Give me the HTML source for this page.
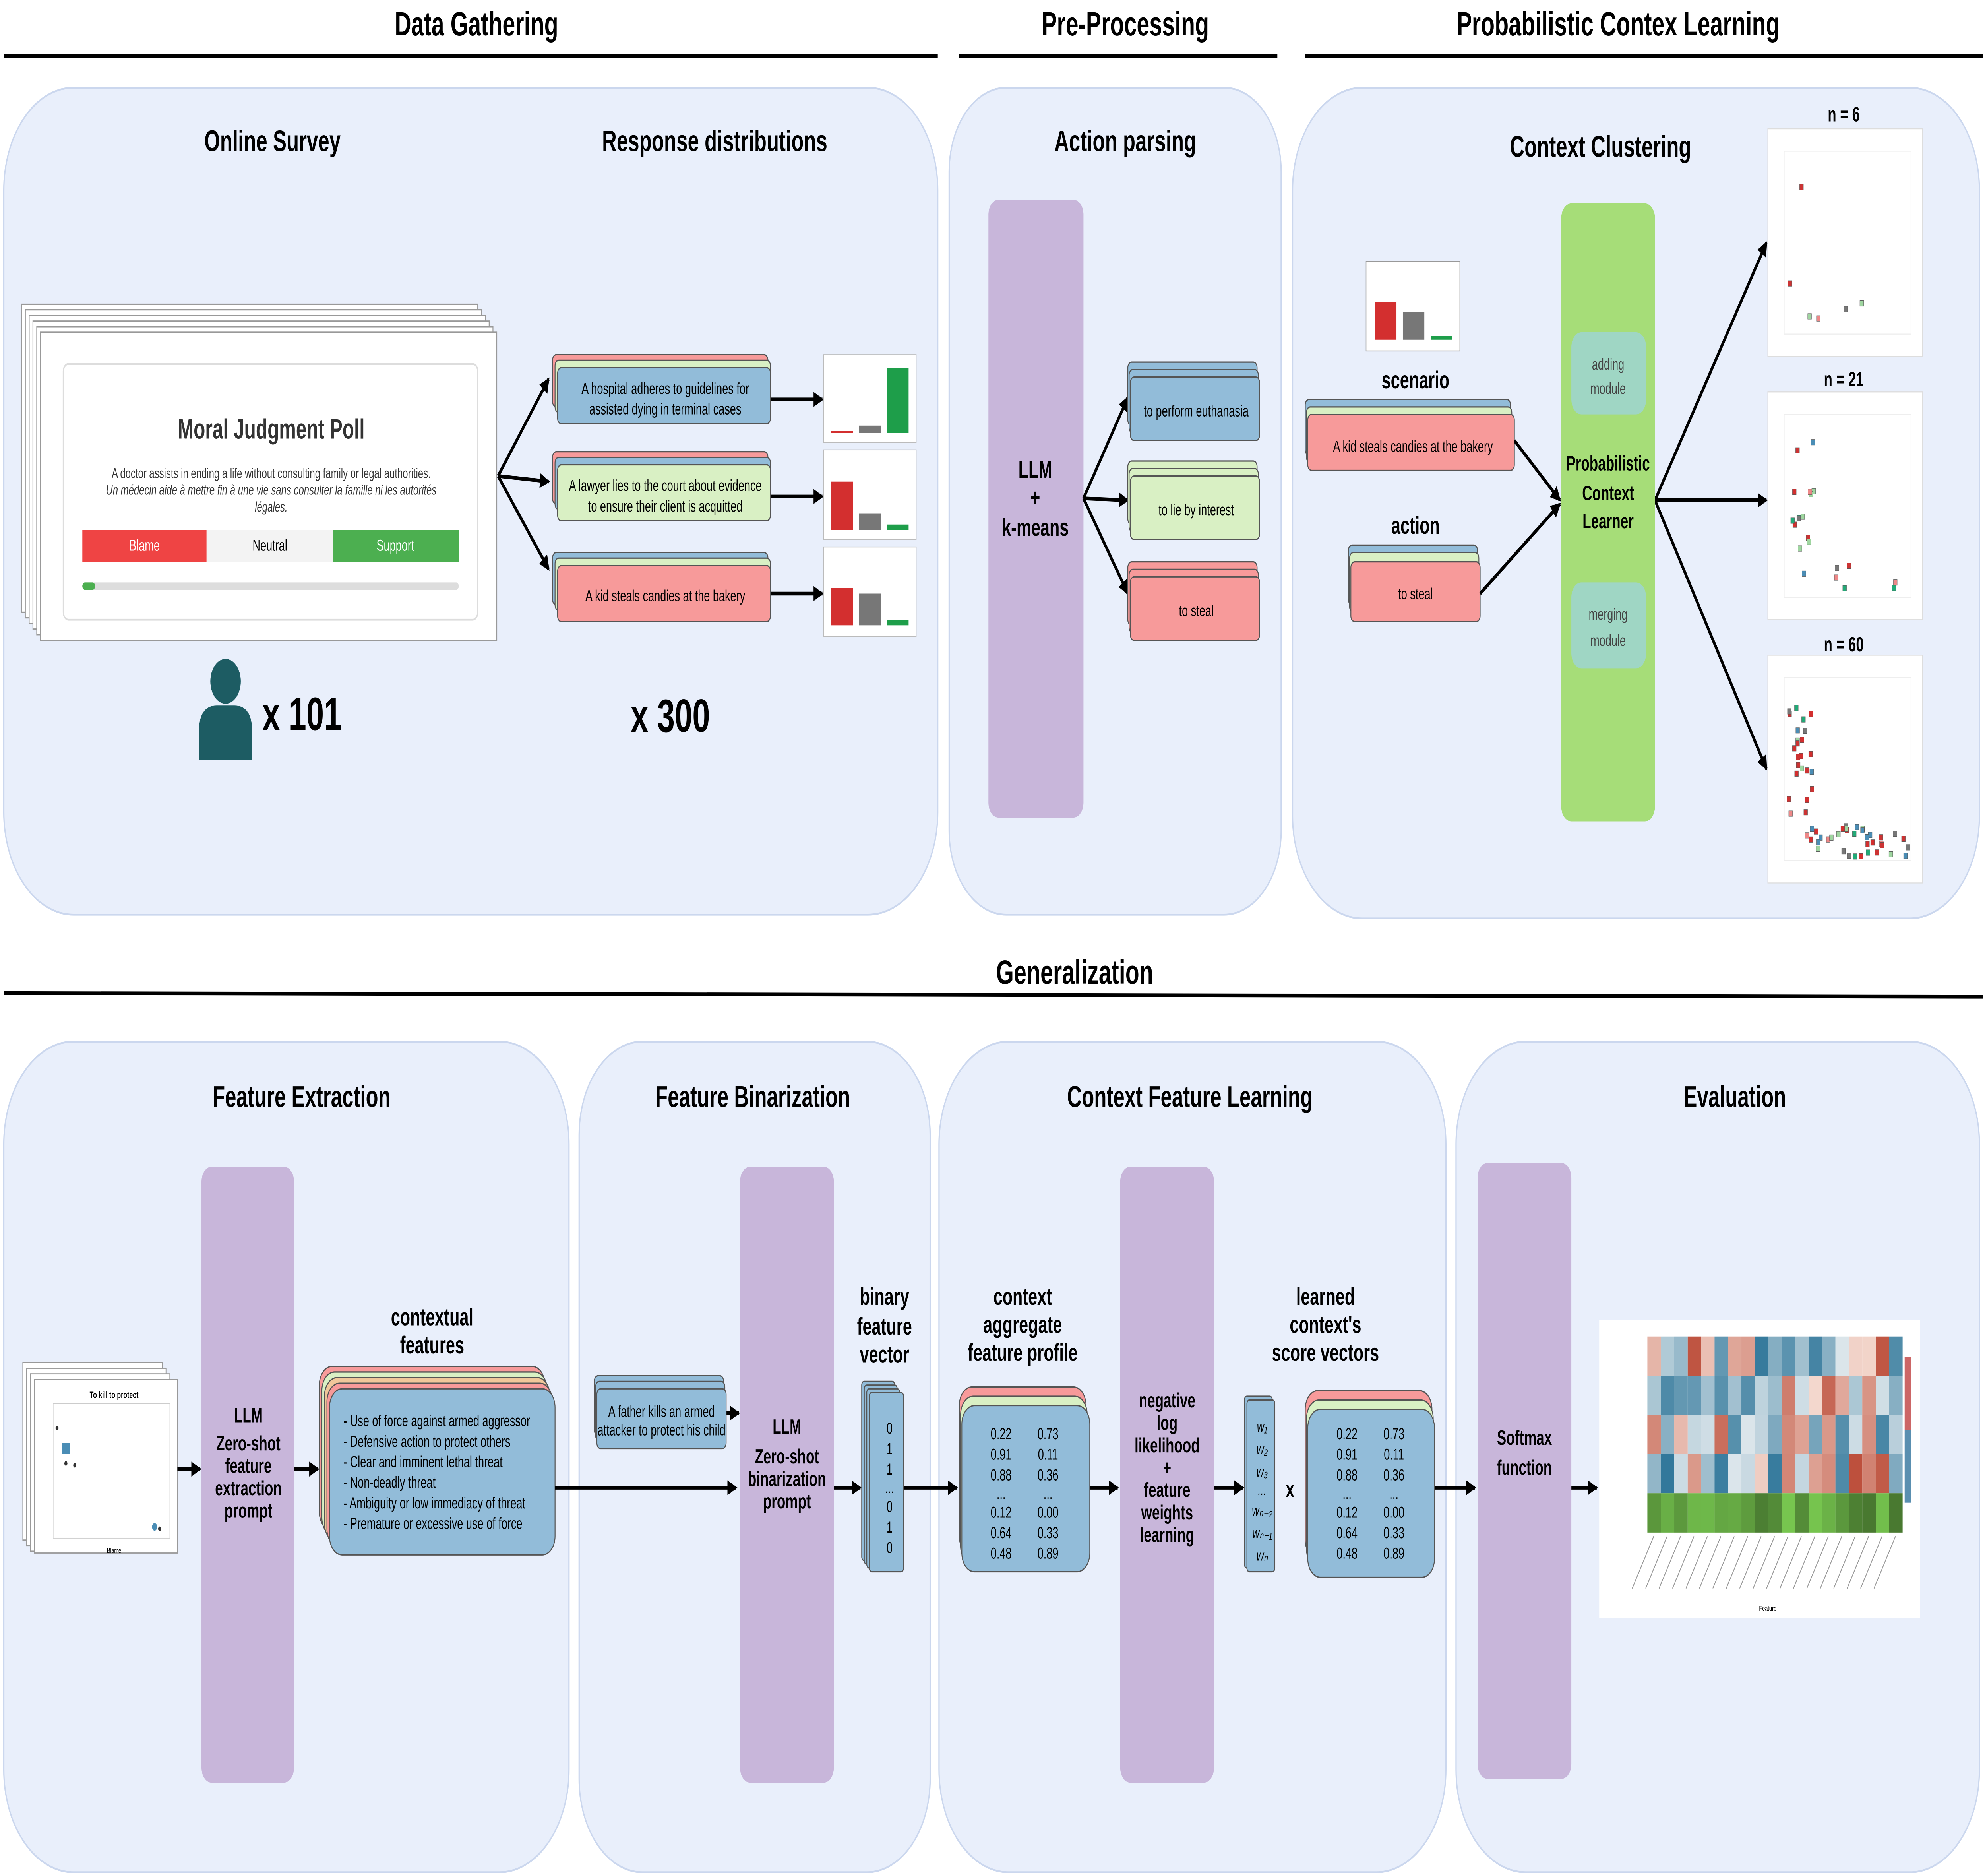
<!DOCTYPE html>
<html><head><meta charset="utf-8"><style>
html,body{margin:0;padding:0;background:#fff;width:100%;height:100%;overflow:hidden}
svg{display:block;position:fixed;left:0;top:0;width:100vw;height:100vh}
text{font-family:"Liberation Sans",Arial,sans-serif}
.h{font-size:18px;font-weight:bold;text-anchor:middle}
.t{font-size:16px;font-weight:bold;text-anchor:middle}
.s{font-size:8.5px;text-anchor:middle}
.b{font-size:11px;font-weight:bold;text-anchor:middle}
.l{font-size:13px;font-weight:bold;text-anchor:middle}
</style></head><body>
<svg id="S" viewBox="0 0 1568 1005" preserveAspectRatio="none" xmlns="http://www.w3.org/2000/svg">
<defs>
<marker id="a" markerWidth="8" markerHeight="8" refX="7" refY="4" orient="auto" markerUnits="userSpaceOnUse"><path d="M0,0 L8,4 L0,8 z" fill="#000"/></marker>
</defs>
<rect width="1568" height="1005" fill="#fff"/>
<text class="h" x="376" y="19">Data Gathering</text>
<line x1="3" y1="30" x2="740" y2="30" stroke="#000" stroke-width="2"/>
<text class="h" x="888" y="19">Pre-Processing</text>
<line x1="757" y1="30" x2="1008" y2="30" stroke="#000" stroke-width="2"/>
<text class="h" x="1277" y="19">Probabilistic Contex Learning</text>
<line x1="1030" y1="30" x2="1565" y2="30" stroke="#000" stroke-width="2"/>
<text class="h" x="848" y="527">Generalization</text>
<line x1="3" y1="532" x2="1565" y2="534" stroke="#000" stroke-width="2"/>
<g fill="#e9effb" stroke="#cbd7ee" stroke-width="1">
<rect x="3" y="47" width="737" height="443" rx="55"/>
<rect x="749" y="47" width="262" height="443" rx="45"/>
<rect x="1020" y="47" width="542" height="445" rx="55"/>
<rect x="3" y="558" width="446" height="445" rx="55"/>
<rect x="457" y="558" width="277" height="445" rx="50"/>
<rect x="741" y="558" width="400" height="445" rx="55"/>
<rect x="1149" y="558" width="413" height="445" rx="55"/>
</g>
<text class="t" x="215" y="81">Online Survey</text>
<text class="t" x="564" y="81">Response distributions</text>
<text class="t" x="888" y="81">Action parsing</text>
<text class="t" x="1263" y="84">Context Clustering</text>
<text class="t" x="238" y="593">Feature Extraction</text>
<text class="t" x="594" y="593">Feature Binarization</text>
<text class="t" x="939" y="593">Context Feature Learning</text>
<text class="t" x="1369" y="593">Evaluation</text>

<g fill="#fff" stroke="#999" stroke-width="0.7">
<rect x="17" y="163" width="360" height="165"/><rect x="20" y="166" width="360" height="165"/><rect x="23" y="169" width="360" height="165"/><rect x="26" y="172" width="360" height="165"/><rect x="29" y="175" width="360" height="165"/><rect x="32" y="178" width="360" height="165"/>
</g>
<rect x="50" y="195" width="327" height="137" rx="4" fill="#fff" stroke="#ddd"/>
<text x="214" y="235" text-anchor="middle" font-size="15" font-weight="bold" fill="#333">Moral Judgment Poll</text>
<text x="214" y="256" text-anchor="middle" font-size="7.5" fill="#333">A doctor assists in ending a life without consulting family or legal authorities.</text>
<text x="214" y="265" text-anchor="middle" font-size="7.5" font-style="italic" fill="#333">Un médecin aide à mettre fin à une vie sans consulter la famille ni les autorités</text>
<text x="214" y="274" text-anchor="middle" font-size="7.5" font-style="italic" fill="#333">légales.</text>
<rect x="65" y="284" width="98" height="17" fill="#ef4444"/><rect x="163" y="284" width="100" height="17" fill="#f3f3f3"/><rect x="263" y="284" width="99" height="17" fill="#4caf50"/>
<text x="114" y="295" class="s" fill="#fff" font-size="7">Blame</text><text x="213" y="295" class="s" font-size="7">Neutral</text><text x="312" y="295" class="s" fill="#fff" font-size="7">Support</text>
<rect x="65" y="312" width="297" height="4" rx="2" fill="#ddd"/><rect x="65" y="312" width="10" height="4" rx="2" fill="#4caf50"/>
<circle cx="178" cy="365" r="12" fill="#1d5c63"/>
<path d="M157,407 L157,392 Q157,378 171,378 L185,378 Q199,378 199,392 L199,407 z" fill="#1d5c63"/>
<text x="207" y="391" font-size="25" font-weight="bold">x 101</text>
<text x="529" y="392" font-size="25" font-weight="bold" text-anchor="middle">x 300</text>
<g stroke="#000" stroke-width="2" fill="none" marker-end="url(#a)">
<line x1="393" y1="255" x2="433" y2="203"/><line x1="393" y1="255" x2="433" y2="258"/><line x1="393" y1="255" x2="433" y2="305"/>
<line x1="608" y1="214" x2="649" y2="214"/><line x1="608" y1="266" x2="649" y2="266"/><line x1="608" y1="318" x2="649" y2="318"/>
</g>
<g stroke="#555" stroke-width="0.7">
<rect x="436" y="190" width="170" height="28" rx="3" fill="#f79a9a"/><rect x="438" y="193" width="170" height="28" rx="3" fill="#d9f0c4"/><rect x="440" y="197" width="168" height="30" rx="3" fill="#92bcd9"/>
<rect x="436" y="242" width="170" height="28" rx="3" fill="#f79a9a"/><rect x="438" y="245" width="170" height="28" rx="3" fill="#92bcd9"/><rect x="440" y="249" width="168" height="30" rx="3" fill="#d9f0c4"/>
<rect x="436" y="296" width="170" height="28" rx="3" fill="#92bcd9"/><rect x="438" y="299" width="170" height="28" rx="3" fill="#d9f0c4"/><rect x="440" y="303" width="168" height="30" rx="3" fill="#f79a9a"/>
</g>
<text x="525" y="211" class="s">A hospital adheres to guidelines for</text><text x="525" y="222" class="s">assisted dying in terminal cases</text>
<text x="525" y="263" class="s">A lawyer lies to the court about evidence</text><text x="525" y="274" class="s">to ensure their client is acquitted</text>
<text x="525" y="322" class="s">A kid steals candies at the bakery</text>
<g stroke="#bbb" stroke-width="0.5" fill="#fff"><rect x="650" y="190" width="73" height="47"/><rect x="650" y="241" width="73" height="48"/><rect x="650" y="293" width="73" height="48"/></g>
<rect x="656" y="231" width="17" height="1" fill="#d32f2f"/><rect x="678" y="228" width="17" height="4" fill="#777"/><rect x="700" y="197" width="17" height="35" fill="#1e9e4a"/>
<rect x="656" y="258" width="17" height="26" fill="#d32f2f"/><rect x="678" y="275" width="17" height="9" fill="#777"/><rect x="700" y="281" width="17" height="3" fill="#1e9e4a"/>
<rect x="656" y="315" width="17" height="20" fill="#d32f2f"/><rect x="678" y="318" width="17" height="17" fill="#777"/><rect x="700" y="332" width="17" height="3" fill="#1e9e4a"/>

<rect x="780" y="107" width="75" height="331" rx="8" fill="#c8b6da"/>
<text class="l" x="817" y="256">LLM</text><text class="l" x="817" y="271">+</text><text class="l" x="817" y="287">k-means</text>
<g stroke="#000" stroke-width="2" fill="none" marker-end="url(#a)">
<line x1="855" y1="267" x2="890" y2="213"/><line x1="855" y1="267" x2="890" y2="268"/><line x1="855" y1="267" x2="890" y2="318"/>
</g>
<g stroke="#555" stroke-width="0.7">
<rect x="890" y="194" width="102" height="34" rx="3" fill="#92bcd9"/><rect x="891" y="198" width="102" height="34" rx="3" fill="#92bcd9"/><rect x="892" y="202" width="102" height="34" rx="3" fill="#92bcd9"/>
<rect x="890" y="247" width="102" height="34" rx="3" fill="#d9f0c4"/><rect x="891" y="251" width="102" height="34" rx="3" fill="#d9f0c4"/><rect x="892" y="255" width="102" height="34" rx="3" fill="#d9f0c4"/>
<rect x="890" y="301" width="102" height="34" rx="3" fill="#f79a9a"/><rect x="891" y="305" width="102" height="34" rx="3" fill="#f79a9a"/><rect x="892" y="309" width="102" height="34" rx="3" fill="#f79a9a"/>
</g>
<text x="944" y="223" class="s">to perform euthanasia</text><text x="944" y="276" class="s">to lie by interest</text><text x="944" y="330" class="s">to steal</text>

<rect x="1078" y="140" width="74" height="48" fill="#fff" stroke="#999" stroke-width="0.5"/>
<rect x="1085" y="162" width="17" height="20" fill="#d32f2f"/><rect x="1107" y="167" width="17" height="15" fill="#777"/><rect x="1129" y="180" width="17" height="2" fill="#1e9e4a"/>
<text class="l" x="1117" y="208">scenario</text>
<g stroke="#555" stroke-width="0.7"><rect x="1030" y="214" width="162" height="30" rx="3" fill="#92bcd9"/><rect x="1031" y="218" width="162" height="30" rx="3" fill="#d9f0c4"/><rect x="1032" y="222" width="163" height="30" rx="3" fill="#f79a9a"/></g>
<text x="1115" y="242" class="s">A kid steals candies at the bakery</text>
<text class="l" x="1117" y="286">action</text>
<g stroke="#555" stroke-width="0.7"><rect x="1064" y="292" width="102" height="32" rx="3" fill="#92bcd9"/><rect x="1065" y="296" width="102" height="32" rx="3" fill="#d9f0c4"/><rect x="1066" y="301" width="102" height="32" rx="3" fill="#f79a9a"/></g>
<text x="1117" y="321" class="s">to steal</text>
<g stroke="#000" stroke-width="2" fill="none" marker-end="url(#a)">
<line x1="1195" y1="236" x2="1231" y2="268"/><line x1="1168" y1="318" x2="1231" y2="270"/>
<line x1="1306" y1="268" x2="1394" y2="130"/><line x1="1306" y1="268" x2="1394" y2="268"/><line x1="1306" y1="268" x2="1394" y2="412"/>
</g>
<rect x="1232" y="109" width="74" height="331" rx="8" fill="#a6dd78"/>
<rect x="1240" y="178" width="59" height="44" rx="8" fill="#9fd6c4"/><text x="1269" y="198" class="s" font-size="9" fill="#444">adding</text><text x="1269" y="211" class="s" font-size="9" fill="#444">module</text>
<rect x="1240" y="312" width="59" height="46" rx="8" fill="#9fd6c4"/><text x="1269" y="332" class="s" font-size="9" fill="#444">merging</text><text x="1269" y="346" class="s" font-size="9" fill="#444">module</text>
<text class="b" x="1269" y="252">Probabilistic</text><text class="b" x="1269" y="268">Context</text><text class="b" x="1269" y="283">Learner</text>
<text class="b" x="1455" y="65">n = 6</text><text class="b" x="1455" y="207">n = 21</text><text class="b" x="1455" y="349">n = 60</text>

<g fill="#fff" stroke="#999" stroke-width="0.6"><rect x="18" y="730" width="110" height="95"/><rect x="21" y="733" width="110" height="95"/><rect x="24" y="736" width="110" height="95"/><rect x="27" y="739" width="113" height="93"/></g>
<text x="90" y="749" font-size="5" font-weight="bold" text-anchor="middle" font-family="Liberation Serif">To kill to protect</text>
<rect x="42" y="752" width="92" height="72" fill="none" stroke="#ccc" stroke-width="0.4"/>
<rect x="49" y="773" width="6" height="6" fill="#4a8db5"/><circle cx="45" cy="765" r="1.2" fill="#333"/><circle cx="52" cy="784" r="1.2" fill="#333"/><circle cx="59" cy="785" r="1.2" fill="#333"/><circle cx="122" cy="818" r="2" fill="#4a8db5"/><circle cx="126" cy="819" r="1.2" fill="#333"/>
<text x="90" y="832" font-size="4" text-anchor="middle">Blame</text>
<rect x="159" y="625" width="73" height="330" rx="8" fill="#c8b6da"/>
<text class="b" x="196" y="762">LLM</text><text class="b" x="196" y="777">Zero-shot</text><text class="b" x="196" y="789">feature</text><text class="b" x="196" y="801">extraction</text><text class="b" x="196" y="813">prompt</text>
<text class="l" x="341" y="710">contextual</text><text class="l" x="341" y="725">features</text>
<g stroke="#555" stroke-width="0.7">
<rect x="252" y="732" width="178" height="88" rx="10" fill="#f79a9a"/><rect x="254" y="735" width="178" height="88" rx="10" fill="#d9f0c4"/><rect x="256" y="738" width="178" height="88" rx="10" fill="#f0c79a"/><rect x="258" y="741" width="178" height="88" rx="10" fill="#f79a9a"/><rect x="260" y="744" width="178" height="89" rx="10" fill="#92bcd9"/>
</g>
<g font-size="8.5"><text x="271" y="764">- Use of force against armed aggressor</text><text x="271" y="775">- Defensive action to protect others</text><text x="271" y="786">- Clear and imminent lethal threat</text><text x="271" y="797">- Non-deadly threat</text><text x="271" y="808">- Ambiguity or low immediacy of threat</text><text x="271" y="819">- Premature or excessive use of force</text></g>
<g stroke="#000" stroke-width="2" fill="none" marker-end="url(#a)">
<line x1="140" y1="787" x2="158" y2="787"/><line x1="232" y1="787" x2="251" y2="787"/>
<line x1="438" y1="797" x2="581" y2="797"/><line x1="573" y1="757" x2="583" y2="757"/>
<line x1="713" y1="797" x2="755" y2="797"/><line x1="860" y1="797" x2="882" y2="797"/><line x1="958" y1="797" x2="981" y2="797"/>
<line x1="1132" y1="797" x2="1164" y2="797"/><line x1="1240" y1="797" x2="1260" y2="797"/>
<line x1="658" y1="797" x2="679" y2="797"/>
</g>
<g stroke="#555" stroke-width="0.7"><rect x="469" y="737" width="102" height="32" rx="3" fill="#92bcd9"/><rect x="470" y="740" width="102" height="32" rx="3" fill="#92bcd9"/><rect x="471" y="744" width="102" height="32" rx="3" fill="#92bcd9"/></g>
<text x="522" y="759" class="s" font-size="7.5">A father kills an armed</text><text x="522" y="769" class="s" font-size="7.5">attacker to protect his child</text>
<rect x="584" y="625" width="74" height="330" rx="8" fill="#c8b6da"/>
<text class="b" x="621" y="768">LLM</text><text class="b" x="621" y="784">Zero-shot</text><text class="b" x="621" y="796">binarization</text><text class="b" x="621" y="808">prompt</text>
<text class="l" x="698" y="699">binary</text><text class="l" x="698" y="715">feature</text><text class="l" x="698" y="730">vector</text>
<g stroke="#555" stroke-width="0.7" fill="#92bcd9"><rect x="680" y="740" width="26" height="96" rx="2"/><rect x="682" y="742" width="26" height="96" rx="2"/><rect x="684" y="744" width="26" height="96" rx="2"/><rect x="686" y="746" width="27" height="96" rx="2"/></g>
<g class="s" font-size="8.5"><text x="702" y="768">0</text><text x="702" y="779">1</text><text x="702" y="790">1</text><text x="702" y="800">...</text><text x="702" y="810">0</text><text x="702" y="821">1</text><text x="702" y="832">0</text></g>
<text class="l" x="807" y="699">context</text><text class="l" x="807" y="714">aggregate</text><text class="l" x="807" y="729">feature profile</text>
<g stroke="#555" stroke-width="0.7"><rect x="757" y="743" width="100" height="90" rx="10" fill="#f79a9a"/><rect x="758" y="748" width="100" height="90" rx="10" fill="#d9f0c4"/><rect x="759" y="753" width="101" height="89" rx="10" fill="#92bcd9"/></g>
<g font-size="8.5" text-anchor="middle"><text x="790" y="771">0.22</text><text x="827" y="771">0.73</text><text x="790" y="782">0.91</text><text x="827" y="782">0.11</text><text x="790" y="793">0.88</text><text x="827" y="793">0.36</text><text x="790" y="803">...</text><text x="827" y="803">...</text><text x="790" y="813">0.12</text><text x="827" y="813">0.00</text><text x="790" y="824">0.64</text><text x="827" y="824">0.33</text><text x="790" y="835">0.48</text><text x="827" y="835">0.89</text></g>
<rect x="884" y="625" width="74" height="330" rx="8" fill="#c8b6da"/>
<text class="b" x="921" y="754">negative</text><text class="b" x="921" y="766">log</text><text class="b" x="921" y="778">likelihood</text><text class="b" x="921" y="790">+</text><text class="b" x="921" y="802">feature</text><text class="b" x="921" y="814">weights</text><text class="b" x="921" y="826">learning</text>
<g stroke="#555" stroke-width="0.7" fill="#92bcd9"><rect x="982" y="748" width="22" height="92" rx="2"/><rect x="984" y="750" width="22" height="92" rx="2"/></g>
<g font-size="8" font-style="italic" text-anchor="middle" font-family="Liberation Serif"><text x="996" y="767">w₁</text><text x="996" y="779">w₂</text><text x="996" y="791">w₃</text><text x="996" y="801">...</text><text x="996" y="812">wₙ₋₂</text><text x="996" y="824">wₙ₋₁</text><text x="996" y="836">wₙ</text></g>
<text x="1018" y="802" font-size="12" font-weight="bold" text-anchor="middle">x</text>
<text class="l" x="1046" y="699">learned</text><text class="l" x="1046" y="714">context's</text><text class="l" x="1046" y="729">score vectors</text>
<g stroke="#555" stroke-width="0.7"><rect x="1030" y="745" width="100" height="90" rx="10" fill="#f79a9a"/><rect x="1031" y="750" width="100" height="90" rx="10" fill="#d9f0c4"/><rect x="1032" y="755" width="100" height="90" rx="10" fill="#92bcd9"/></g>
<g font-size="8.5" text-anchor="middle"><text x="1063" y="771">0.22</text><text x="1100" y="771">0.73</text><text x="1063" y="782">0.91</text><text x="1100" y="782">0.11</text><text x="1063" y="793">0.88</text><text x="1100" y="793">0.36</text><text x="1063" y="803">...</text><text x="1100" y="803">...</text><text x="1063" y="813">0.12</text><text x="1100" y="813">0.00</text><text x="1063" y="824">0.64</text><text x="1100" y="824">0.33</text><text x="1063" y="835">0.48</text><text x="1100" y="835">0.89</text></g>
<rect x="1166" y="623" width="74" height="330" rx="8" fill="#c8b6da"/>
<text class="b" x="1203" y="774">Softmax</text><text class="b" x="1203" y="790">function</text>
<rect x="1262" y="707" width="253" height="160" fill="#fff"/>
<text x="1395" y="863" font-size="4" text-anchor="middle">Feature</text>
</svg>
<script>
var NS="http://www.w3.org/2000/svg",S=document.getElementById('S');
function el(t,a){var e=document.createElementNS(NS,t);for(var k in a)e.setAttribute(k,a[k]);S.appendChild(e);return e;}
var seed=7;function r(){seed=(seed*9301+49297)%233280;return seed/233280;}
[[69,6],[210,21],[351,60]].forEach(function(p){
 var y=p[0];el('rect',{x:1395,y:y,width:122,height:122,fill:'#fff',stroke:'#ddd','stroke-width':0.5});
 el('rect',{x:1408,y:y+12,width:100,height:98,fill:'none',stroke:'#eee','stroke-width':0.5});
 var cols=['#d32f2f','#9fd6a0','#4a8db5','#e88','#2a7','#777','#c33'];
 for(var i=0;i<p[1];i++){var t=r();var x,yy;if(t<0.45){x=1410+r()*20;yy=y+25+r()*60;}else{x=1420+r()*85;yy=y+90+r()*18;}
  var c=cols[Math.floor(r()*cols.length)];el('rect',{x:x,y:yy,width:3,height:3,fill:c,stroke:'#555','stroke-width':0.2});}
});
var hx=1300,hy=716,cw=10.6,ch=21;
for(var row=0;row<5;row++)for(var c=0;c<19;c++){
 var v=r()*2-1,col;
 if(row==4){var g=Math.round(120+r()*80);col='rgb('+Math.round(g*0.6)+','+g+','+Math.round(g*0.4)+')';}
 else if(v>0){col='rgb('+Math.round(245-v*60)+','+Math.round(220-v*150)+','+Math.round(210-v*160)+')';}
 else {v=-v;col='rgb('+Math.round(220-v*170)+','+Math.round(230-v*110)+','+Math.round(235-v*80)+')';}
 el('rect',{x:hx+c*cw,y:hy+row*ch,width:cw,height:ch,fill:col});
}
for(var i=0;i<19;i++){el('line',{x1:hx+i*cw+5,y1:hy+107,x2:hx+i*cw-12,y2:hy+135,stroke:'#999','stroke-width':0.6});}
el('rect',{x:1503,y:727,width:5,height:39,fill:'#c66'});el('rect',{x:1503,y:766,width:5,height:39,fill:'#5a8fb0'});
</script>
</body></html>
